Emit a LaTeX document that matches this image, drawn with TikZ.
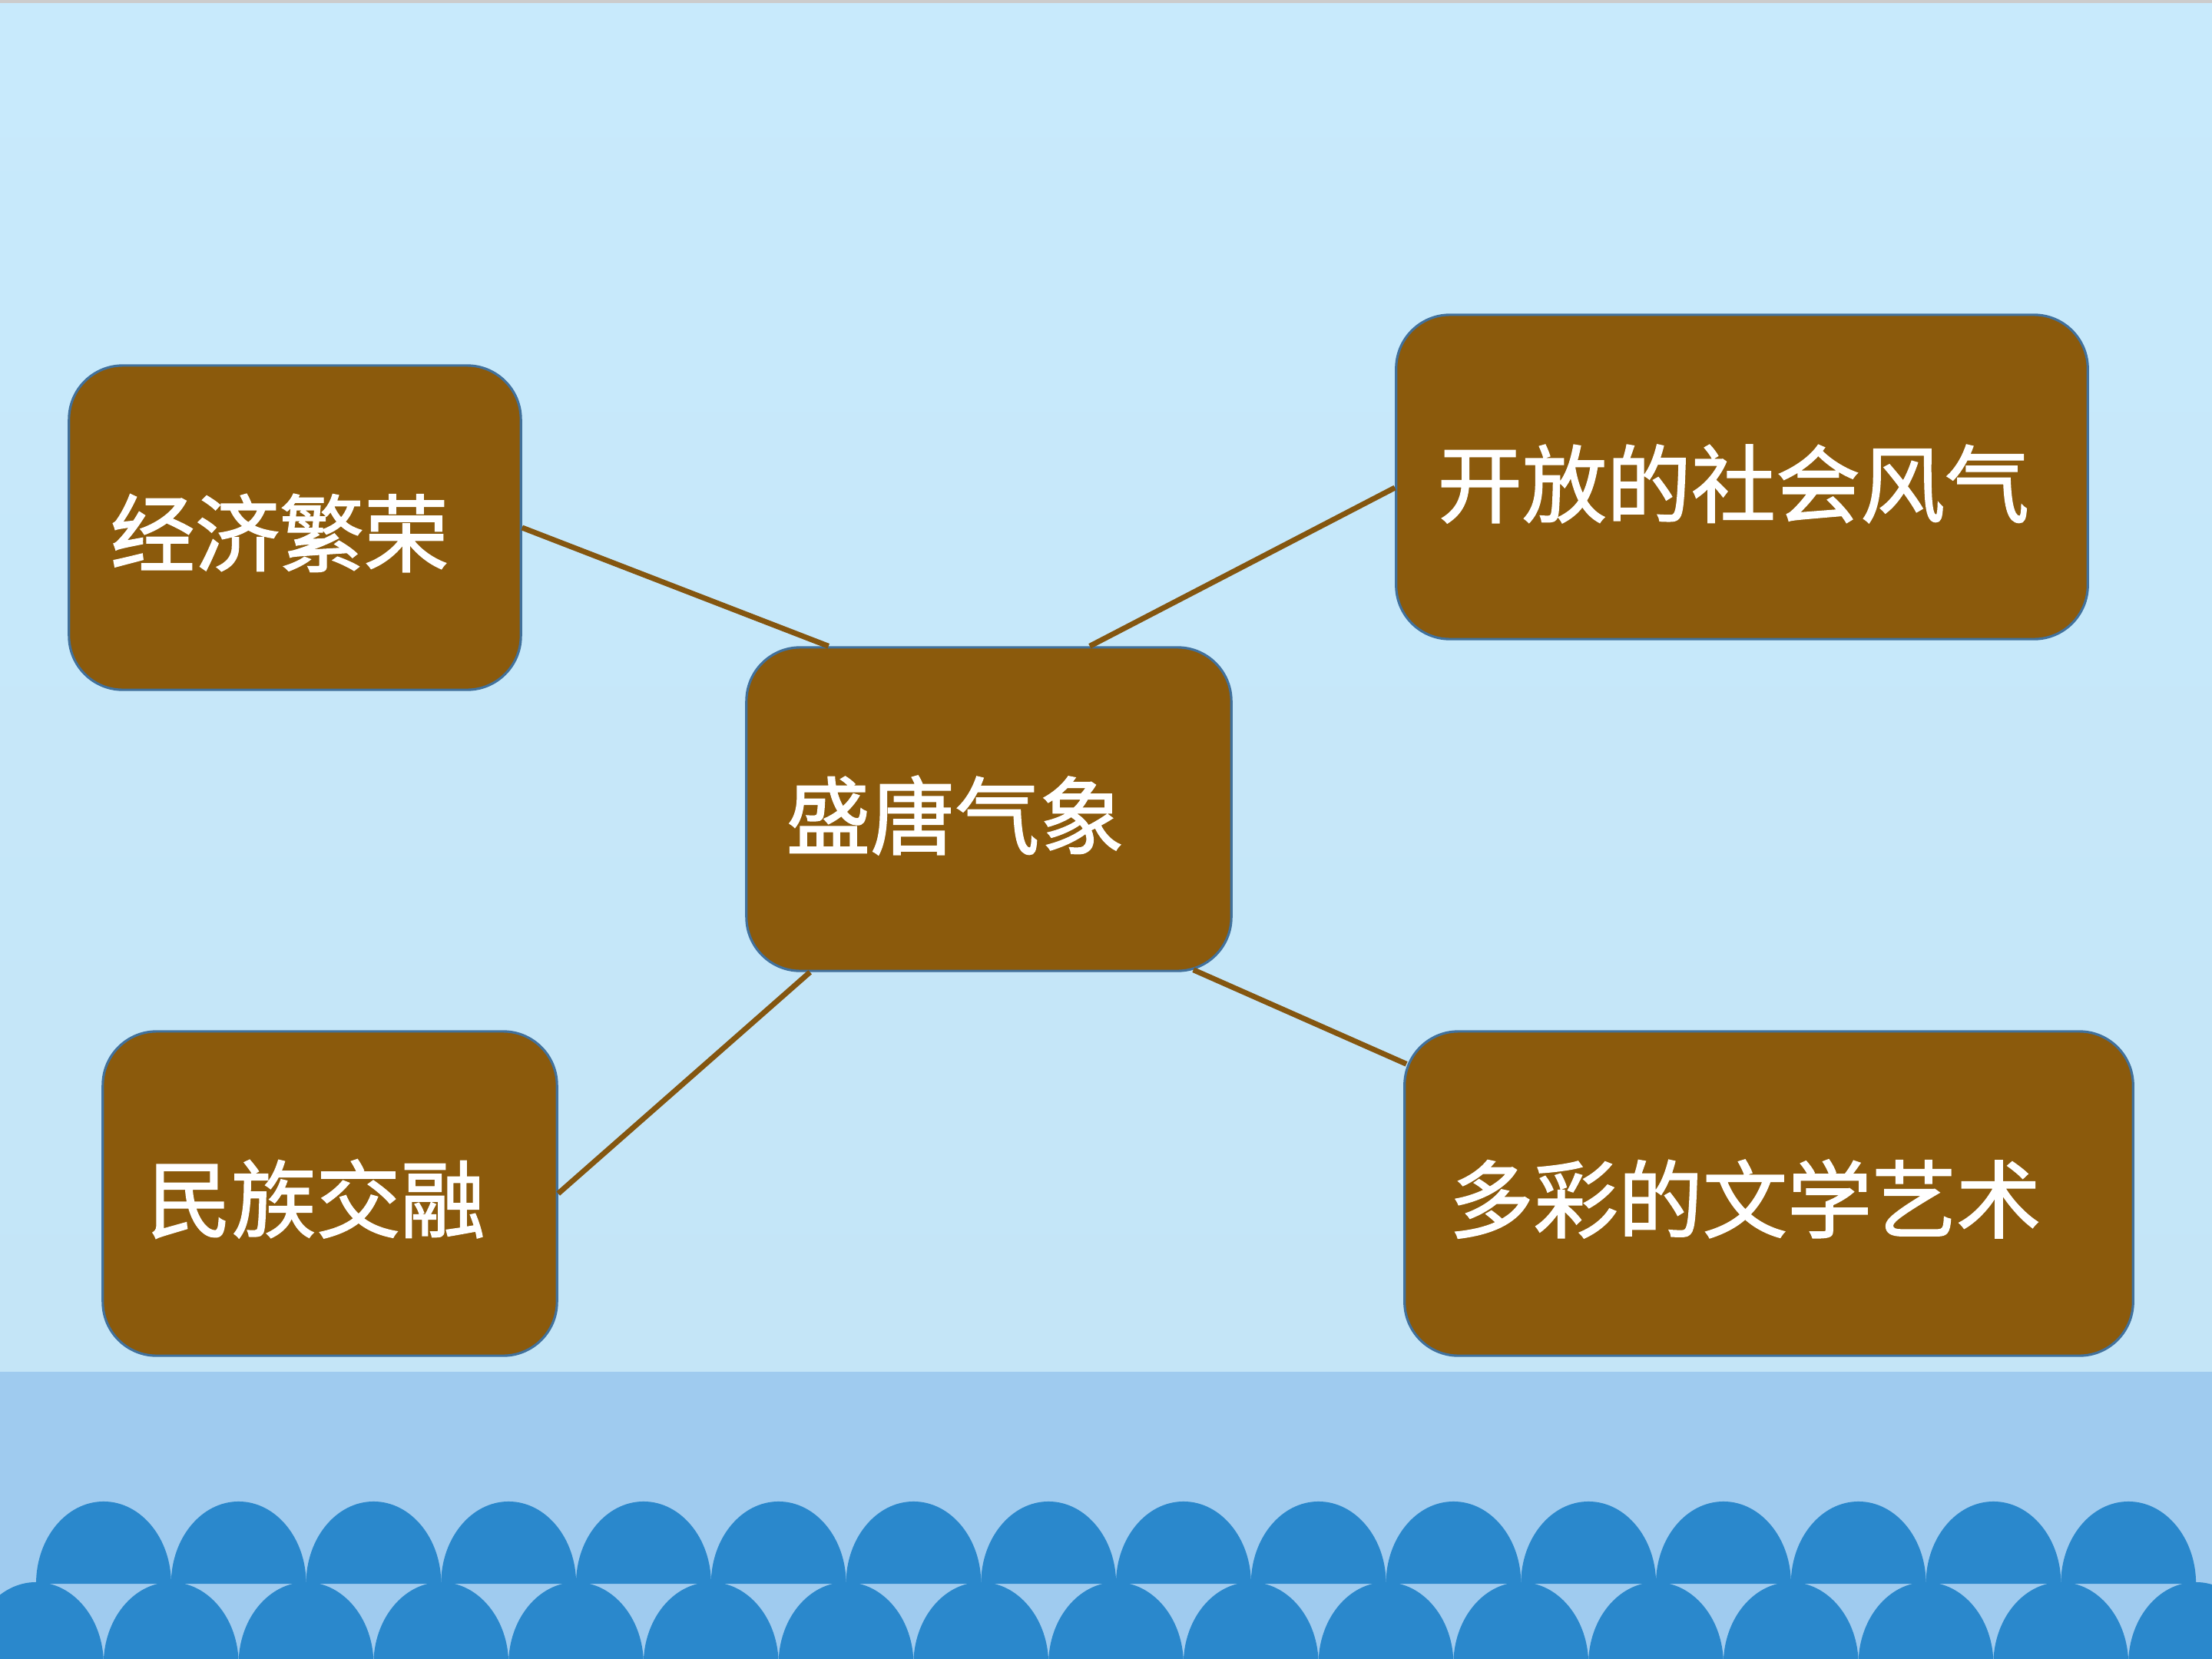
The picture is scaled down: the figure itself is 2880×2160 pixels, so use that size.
\documentclass[tikz,border=0pt]{standalone}
\usepackage{fontspec}
\usepackage{xcolor}
\usepackage{tikz}
\usetikzlibrary{calc}
\newfontfamily\cjk[FakeBold=1.5]{Noto Sans CJK SC}
\definecolor{skytop}{HTML}{C8EAFC}
\definecolor{skybot}{HTML}{C4E5F7}
\definecolor{sea}{HTML}{9FCBEF}
\definecolor{wave}{HTML}{2A88CC}
\definecolor{tangbrown}{HTML}{8B5A0C}
\definecolor{rim}{HTML}{41719C}
\definecolor{linkbrown}{HTML}{845610}

\begin{document}
\begin{tikzpicture}[x=0.01cm,y=-0.01cm,
  box/.style={draw=rim,line width=0.9pt,fill=tangbrown,rounded corners=0.7cm,minimum height=4.22cm,inner sep=0},
  word/.style={text=white,font=\cjk\fontsize{31.3}{31.3}\selectfont,inner sep=0},
  link/.style={draw=linkbrown,line width=2pt}]
\useasboundingbox (0,0) rectangle (2880,2160);
\clip (0,0) rectangle (2880,2160);

\fill[top color=skytop,bottom color=skybot] (0,0) rectangle (2880,1786);
\fill[black!20] (0,0) rectangle (2880,4);
\fill[sea] (0,1786) rectangle (2880,2160);
\foreach \i in {0,...,15}
  \fill[wave] (47+\i*175.75,2062) arc[start angle=180,end angle=0,x radius=0.879cm,y radius=1.07cm] -- cycle;
\foreach \i in {0,...,16}
  \fill[wave] (47+\i*175.75,2167) ellipse[x radius=0.879cm,y radius=1.07cm];

\node[box,minimum width=5.88cm] (jingji) at (384,687) {};
\node[box,minimum width=9.00cm] (kaifang) at (2268,621) {};
\node[box,minimum width=6.31cm,minimum height=4.21cm] (tang) at (1287.5,1053.5) {};
\node[box,minimum width=5.91cm] (minzu) at (429.5,1554) {};
\node[box,minimum width=9.48cm] (duocai) at (2303,1554) {};

\node[word] (jingji-t) at ($(jingji)+(-20,7)$) {经济繁荣};
\node[word] (kaifang-t) at ($(kaifang)+(-11,9)$) {开放的社会风气};
\node[word] (tang-t) at ($(tang)+(-44,8)$) {盛唐气象};
\node[word] (minzu-t) at ($(minzu)+(-18,7)$) {民族交融};
\node[word] (duocai-t) at ($(duocai)+(-31,7)$) {多彩的文学艺术};

\draw[link] (jingji.east) -- ($(tang.north west)!0.171!(tang.north east)$);
\draw[link] ($(kaifang.west)+(0,14)$) -- ($(tang.north west)!0.707!(tang.north east)$);
\draw[link] (minzu.east) -- ($(tang.south west)!0.133!(tang.south east)$);
\draw[link] ($(duocai.north west)+(4,44)$) -- ($(tang.south east)+(-51,-3)$);
\end{tikzpicture}
\end{document}
